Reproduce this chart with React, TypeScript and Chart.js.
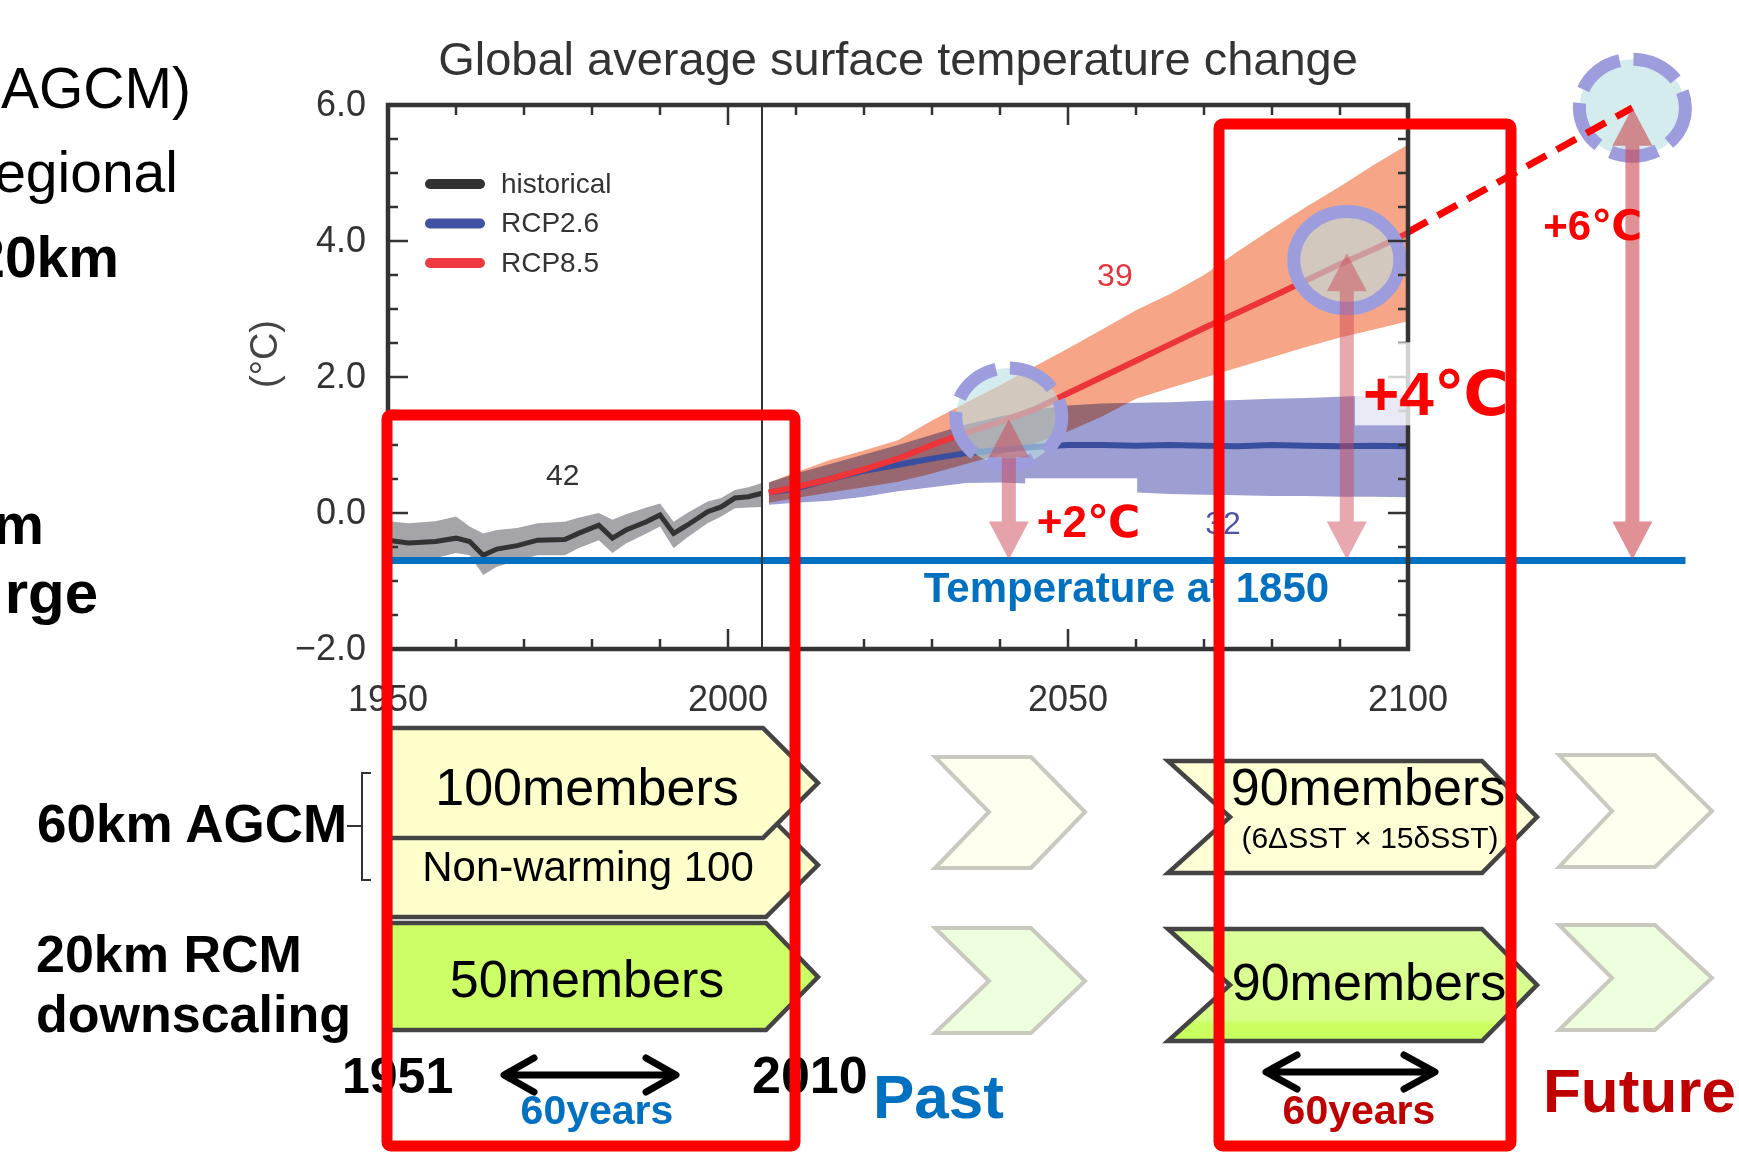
import React, { useEffect, useRef } from 'react';
import { Chart, registerables } from 'chart.js';

Chart.register(...registerables);

const W = 1739;
const H = 1152;
const FONT = "'Liberation Sans', Arial, Helvetica, 'DejaVu Sans', sans-serif";

// ---------------- data ----------------
const histYears = [1950, 1953, 1957, 1960, 1962, 1964, 1966, 1969, 1972, 1976, 1978, 1981, 1983, 1985, 1988, 1990, 1992, 1994, 1997, 1999, 2001, 2003, 2005];
const histMean = [-0.40, -0.44, -0.42, -0.37, -0.42, -0.62, -0.53, -0.48, -0.40, -0.39, -0.30, -0.18, -0.37, -0.25, -0.13, -0.03, -0.30, -0.18, 0.02, 0.09, 0.22, 0.24, 0.29];
const histUpper = [-0.12, -0.15, -0.12, -0.05, -0.20, -0.30, -0.25, -0.22, -0.15, -0.13, -0.07, 0.0, -0.10, -0.02, 0.08, 0.14, -0.13, 0.0, 0.17, 0.22, 0.34, 0.38, 0.44];
const histLower = [-0.67, -0.68, -0.66, -0.59, -0.62, -0.91, -0.79, -0.70, -0.62, -0.62, -0.52, -0.40, -0.59, -0.45, -0.30, -0.20, -0.52, -0.36, -0.15, -0.05, 0.07, 0.08, 0.09];

const futYears = [2006, 2010, 2015, 2020, 2025, 2030, 2035, 2040, 2045, 2050, 2055, 2060, 2065, 2070, 2075, 2080, 2085, 2090, 2095, 2100];
const rcp85Mean = [0.30, 0.38, 0.50, 0.64, 0.80, 1.00, 1.18, 1.34, 1.52, 1.76, 2.00, 2.24, 2.48, 2.72, 2.95, 3.18, 3.42, 3.66, 3.88, 4.12];
const rcp85Upper = [0.45, 0.60, 0.78, 0.92, 1.07, 1.36, 1.62, 1.88, 2.15, 2.42, 2.70, 2.98, 3.22, 3.50, 3.85, 4.18, 4.50, 4.80, 5.12, 5.42];
const rcp85Lower = [0.15, 0.22, 0.30, 0.38, 0.46, 0.58, 0.72, 0.86, 1.02, 1.20, 1.42, 1.68, 1.84, 1.99, 2.14, 2.29, 2.44, 2.58, 2.70, 2.82];
const rcp26Mean = [0.30, 0.36, 0.50, 0.62, 0.71, 0.80, 0.88, 0.93, 0.97, 1.00, 1.00, 0.99, 1.00, 0.99, 0.98, 1.00, 0.99, 0.98, 0.99, 0.98];
const rcp26Upper = [0.45, 0.58, 0.72, 0.86, 1.00, 1.15, 1.30, 1.42, 1.52, 1.58, 1.61, 1.62, 1.63, 1.65, 1.66, 1.68, 1.69, 1.71, 1.73, 1.75];
const rcp26Lower = [0.12, 0.15, 0.18, 0.24, 0.32, 0.38, 0.44, 0.45, 0.43, 0.40, 0.35, 0.30, 0.28, 0.27, 0.26, 0.25, 0.25, 0.24, 0.24, 0.23];

const baseline1850 = -0.7;
const baselineYears = [1950, 2140.8];
const extensionYears = [2100, 2133];
const extensionValues = [4.13, 5.96];

const xMajorTicks = [1950, 2000, 2050, 2100];
const xTickLabels = ['1950', '2000', '2050', '2100'];
const yMajorTicks = [-2, 0, 2, 4, 6];
const yTickLabels = ['\u22122.0', '0.0', '2.0', '4.0', '6.0'];
const scenarioYear = 2005;

const legendLabels = ['historical', 'RCP2.6', 'RCP8.5'];
const modelCounts = [
  { text: '42', year: 1975.7, value: 0.53 },
  { text: '39', year: 2056.9, value: 3.47 },
  { text: '32', year: 2072.8, value: -0.18 },
];
// warming target markers (circle centre = arrow tip)
const markerYears = [2041.3, 2091.0, 2133.0];
const markerValues = [1.42, 3.72, 5.96];
const markerDashed = [true, false, true];
const arrowTips = [1.38, 3.82, 5.96];
const warmingLabels = ['+2℃', '+4℃', '+6℃'];
const warmingLabelYears = [2045.4, 2093.4, 2119.9];
const warmingLabelValues = [-0.35, 1.44, 4.01];

const pts = (xs: number[], ys: number[]) => xs.map((x, i) => ({ x, y: ys[i] }));

const IDX_R85_LOWER = 3;
const IDX_R26_UPPER = 4;
const IDX_R85_MEAN = 8;

export default function App() {
  const ref = useRef<HTMLCanvasElement>(null);

  useEffect(() => {
    const canvas = ref.current!;

    const drawArrow = (ctx: CanvasRenderingContext2D, x: number, yTop: number, yBot: number, color: string) => {
      const sw = 14, hw = 40, hh = 38;
      ctx.save();
      ctx.beginPath();
      ctx.moveTo(x, yTop);
      ctx.lineTo(x + hw / 2, yTop + hh);
      ctx.lineTo(x + sw / 2, yTop + hh);
      ctx.lineTo(x + sw / 2, yBot - hh);
      ctx.lineTo(x + hw / 2, yBot - hh);
      ctx.lineTo(x, yBot);
      ctx.lineTo(x - hw / 2, yBot - hh);
      ctx.lineTo(x - sw / 2, yBot - hh);
      ctx.lineTo(x - sw / 2, yTop + hh);
      ctx.lineTo(x - hw / 2, yTop + hh);
      ctx.closePath();
      ctx.fillStyle = color;
      ctx.fill();
      ctx.restore();
    };

    const overlay = {
      id: 'overlay',
      afterDatasetDraw(chart: any, args: any) {
        const ctx: CanvasRenderingContext2D = chart.ctx;
        if (args.index === IDX_R85_LOWER) ctx.globalCompositeOperation = 'multiply';
        if (args.index === IDX_R26_UPPER) ctx.globalCompositeOperation = 'source-over';
        if (args.index === IDX_R85_MEAN) {
          const xs = chart.scales.x, ys = chart.scales.y;
          markerYears.forEach((yr, i) => {
            const cx = xs.getPixelForValue(yr);
            const cy = ys.getPixelForValue(markerValues[i]);
            ctx.save();
            ctx.beginPath();
            ctx.ellipse(cx, cy, 53, 48.5, 0, 0, Math.PI * 2);
            ctx.fillStyle = 'rgba(185,223,227,0.6)';
            ctx.fill();
            ctx.lineWidth = 13;
            ctx.strokeStyle = '#9d9ddd';
            if (markerDashed[i]) {
              ctx.setLineDash([48, 14]);
              ctx.lineDashOffset = 8;
            }
            ctx.stroke();
            ctx.restore();
          });
        }
      },
      afterDatasetsDraw(chart: any) {
        const ctx: CanvasRenderingContext2D = chart.ctx;
        ctx.globalCompositeOperation = 'source-over';
        const { left: L, right: R, top: T, bottom: B } = chart.chartArea;
        const xs = chart.scales.x, ys = chart.scales.y;
        ctx.save();
        // scenario divider
        ctx.strokeStyle = '#333';
        ctx.lineWidth = 2;
        const x05 = xs.getPixelForValue(scenarioYear);
        ctx.beginPath();
        ctx.moveTo(x05, T);
        ctx.lineTo(x05, B);
        ctx.stroke();
        // ticks
        ctx.lineWidth = 2.5;
        ctx.beginPath();
        for (let v = -1.5; v < 6; v += 0.5) {
          const y = ys.getPixelForValue(v);
          const len = yMajorTicks.includes(v) ? 20 : 10;
          ctx.moveTo(L, y); ctx.lineTo(L + len, y);
          ctx.moveTo(R, y); ctx.lineTo(R - len, y);
        }
        for (let yr = 1960; yr < 2100; yr += 10) {
          const x = xs.getPixelForValue(yr);
          const len = xMajorTicks.includes(yr) ? 20 : 10;
          ctx.moveTo(x, T); ctx.lineTo(x, T + len);
          ctx.moveTo(x, B); ctx.lineTo(x, B - len);
        }
        ctx.stroke();
        // frame
        ctx.lineWidth = 4.5;
        ctx.strokeRect(L, T, R - L, B - T);

        // legend
        const legendColors = ['#333333', '#4152a3', '#ee3a40'];
        legendLabels.forEach((lab, i) => {
          const y = T + 79 + i * 39.5;
          ctx.beginPath();
          ctx.lineCap = 'round';
          ctx.lineWidth = 10;
          ctx.strokeStyle = legendColors[i];
          ctx.moveTo(L + 42, y);
          ctx.lineTo(L + 92, y);
          ctx.stroke();
          ctx.fillStyle = '#333';
          ctx.font = `28px ${FONT}`;
          ctx.textAlign = 'left';
          ctx.textBaseline = 'middle';
          ctx.fillText(lab, L + 113, y + 1);
        });

        // label boxes
        ctx.fillStyle = '#ffffff';
        ctx.fillRect(xs.getPixelForValue(2043.7), ys.getPixelForValue(0.51), 112, 64);
        ctx.fillStyle = 'rgba(255,255,255,0.78)';
        ctx.fillRect(xs.getPixelForValue(2092.2), ys.getPixelForValue(2.51), 150, 83);

        // arrows
        const yBase = ys.getPixelForValue(baseline1850);
        const arrowColors = ['rgba(205,70,85,0.5)', 'rgba(205,70,85,0.47)', 'rgba(205,70,80,0.6)'];
        markerYears.forEach((yr, i) => {
          drawArrow(ctx, xs.getPixelForValue(yr), ys.getPixelForValue(arrowTips[i]), yBase - 1, arrowColors[i]);
        });

        // model counts
        const countColors = ['#333333', '#e8343c', '#4a55a8'];
        const countSizes = [30, 32, 32];
        modelCounts.forEach((m, i) => {
          ctx.fillStyle = countColors[i];
          ctx.font = `${countSizes[i]}px ${FONT}`;
          ctx.textAlign = 'center';
          ctx.textBaseline = 'middle';
          ctx.fillText(m.text, xs.getPixelForValue(m.year), ys.getPixelForValue(m.value));
        });

        // Temperature at 1850
        ctx.fillStyle = '#0070c0';
        ctx.font = `bold 42px ${FONT}`;
        ctx.textAlign = 'center';
        ctx.textBaseline = 'alphabetic';
        ctx.fillText('Temperature at 1850', xs.getPixelForValue(2058.6), 602);

        // warming labels
        const wSizes = [44, 62, 42];
        warmingLabels.forEach((lab, i) => {
          ctx.fillStyle = '#ff0000';
          ctx.font = `bold ${wSizes[i]}px ${FONT}`;
          ctx.textAlign = 'left';
          ctx.textBaseline = 'alphabetic';
          ctx.fillText(lab, xs.getPixelForValue(warmingLabelYears[i]), ys.getPixelForValue(warmingLabelValues[i]));
        });

        // tick labels
        ctx.fillStyle = '#333';
        ctx.font = `36px ${FONT}`;
        ctx.textBaseline = 'middle';
        ctx.textAlign = 'right';
        yMajorTicks.forEach((v, i) => ctx.fillText(yTickLabels[i], L - 22, ys.getPixelForValue(v) + 1));
        ctx.textAlign = 'center';
        xMajorTicks.forEach((v, i) => ctx.fillText(xTickLabels[i], xs.getPixelForValue(v), B + 52));

        // axis title
        ctx.save();
        ctx.translate(L - 121, (T + B) / 2 - 23);
        ctx.rotate(-Math.PI / 2);
        ctx.fillStyle = '#444';
        ctx.font = `38px ${FONT}`;
        ctx.textAlign = 'center';
        ctx.textBaseline = 'middle';
        ctx.fillText('(°C)', 0, 0);
        ctx.restore();

        // chart title
        ctx.fillStyle = '#333';
        ctx.font = `47px ${FONT}`;
        ctx.textAlign = 'center';
        ctx.textBaseline = 'alphabetic';
        ctx.fillText('Global average surface temperature change', (L + R) / 2, 75);
        ctx.restore();
      },
    };

    const bandLine = { borderColor: 'rgba(0,0,0,0)', borderWidth: 0, pointRadius: 0, tension: 0 };
    const chart = new Chart(canvas, {
      type: 'line',
      data: {
        datasets: [
          { ...bandLine, data: pts(histYears, histUpper), fill: '+1', backgroundColor: '#a4a4a9', order: 12 },
          { ...bandLine, data: pts(histYears, histLower), fill: false, order: 11 },
          { ...bandLine, data: pts(futYears, rcp85Upper), fill: '+1', backgroundColor: '#f7a587', order: 10 },
          { ...bandLine, data: pts(futYears, rcp85Lower), fill: false, order: 9 },
          { ...bandLine, data: pts(futYears, rcp26Upper), fill: '+1', backgroundColor: '#9d9fd2', order: 8 },
          { ...bandLine, data: pts(futYears, rcp26Lower), fill: false, order: 7 },
          { label: 'historical', data: pts(histYears, histMean), borderColor: '#333333', borderWidth: 5, pointRadius: 0, fill: false, tension: 0, order: 6 },
          { label: 'RCP2.6', data: pts(futYears, rcp26Mean), borderColor: '#3a4ea0', borderWidth: 6, pointRadius: 0, fill: false, tension: 0, order: 5 },
          { label: 'RCP8.5', data: pts(futYears, rcp85Mean), borderColor: '#ec3439', borderWidth: 6, pointRadius: 0, fill: false, tension: 0, order: 4 },
          { data: pts(baselineYears, [baseline1850, baseline1850]), borderColor: '#0070c0', borderWidth: 7, pointRadius: 0, fill: false, clip: false, borderCapStyle: 'butt', order: 3 },
          { data: pts(extensionYears, extensionValues), borderColor: '#ff0000', borderWidth: 7, borderDash: [22, 12], pointRadius: 0, fill: false, clip: false, order: 2 },
        ] as any,
      },
      options: {
        responsive: false,
        animation: false,
        devicePixelRatio: 1,
        events: [],
        layout: { padding: { left: 388, top: 105, right: W - 1408, bottom: H - 649 } },
        plugins: {
          legend: { display: false },
          title: { display: false },
          tooltip: { enabled: false },
          filler: { propagate: false, drawTime: 'beforeDatasetDraw' },
        } as any,
        scales: {
          x: { type: 'linear', min: 1950, max: 2100, display: false },
          y: { type: 'linear', min: -2, max: 6, display: false },
        },
      },
      plugins: [overlay as any],
    });
    return () => chart.destroy();
  }, []);

  const txt = { fontFamily: FONT } as React.CSSProperties;
  const pale = { strokeWidth: 4, stroke: '#c9c9bf', strokeLinejoin: 'miter' as const };
  const dark = { strokeWidth: 4.5, stroke: '#444', strokeLinejoin: 'miter' as const };

  return (
    <div style={{ position: 'fixed', left: 0, top: 0, width: W, height: H, background: '#fff', overflow: 'hidden' }}>
      <canvas ref={ref} width={W} height={H} style={{ position: 'absolute', left: 0, top: 0, width: W, height: H }} />
      <svg width={W} height={H} style={{ position: 'absolute', left: 0, top: 0 }}>
        <defs>
          <linearGradient id="grn" x1="0" y1="0" x2="0" y2="1">
            <stop offset="0" stopColor="#dcff9c" />
            <stop offset="0.8" stopColor="#d6ff88" />
            <stop offset="0.86" stopColor="#c9ff5e" />
            <stop offset="1" stopColor="#c9ff5e" />
          </linearGradient>
        </defs>
        {/* cropped left texts */}
        <g style={txt} fill="#000">
          <text x={191} y={108} fontSize={57} textAnchor="end">AGCM)</text>
          <text x={178} y={192} fontSize={57} textAnchor="end">egional</text>
          <text x={119} y={277} fontSize={57} fontWeight="bold" textAnchor="end">20km</text>
          <text x={44} y={544} fontSize={57} fontWeight="bold" textAnchor="end">m</text>
          <text x={98} y={613} fontSize={60} fontWeight="bold" textAnchor="end">rge</text>
          <text x={37} y={842} fontSize={53} fontWeight="bold">60km AGCM</text>
          <text x={36} y={972} fontSize={52} fontWeight="bold">20km RCM</text>
          <text x={36} y={1032} fontSize={52} fontWeight="bold">downscaling</text>
        </g>
        <path d="M371,773 L362,773 L362,880 L371,880 M347,826 L362,826" fill="none" stroke="#333" strokeWidth={2} />

        {/* past chevrons */}
        <path d="M390,813 L766,813 L818,865 L766,917 L390,917 Z" fill="#ffffcc" {...dark} />
        <path d="M390,728 L763,728 L818,783 L763,838 L390,838 Z" fill="#ffffcc" {...dark} />
        <path d="M390,923 L766,923 L818,977 L766,1030 L390,1030 Z" fill="#ccff66" {...dark} />
        <g style={txt} fill="#000" textAnchor="middle">
          <text x={587} y={805} fontSize={52}>100members</text>
          <text x={588} y={881} fontSize={42}>Non-warming 100</text>
          <text x={587} y={997} fontSize={52}>50members</text>
        </g>

        {/* pale chevrons */}
        <path d="M935,757 L1031,757 L1085,812 L1031,868 L935,868 L989,812 Z" fill="#fffff0" {...pale} />
        <path d="M935,928 L1031,928 L1085,981 L1031,1033 L935,1033 L989,981 Z" fill="#eeffdd" {...pale} />
        <path d="M1559,755 L1655,755 L1712,811 L1655,867 L1559,867 L1612,811 Z" fill="#fffff0" {...pale} />
        <path d="M1559,925 L1655,925 L1712,978 L1655,1030 L1559,1030 L1612,978 Z" fill="#eeffdd" {...pale} />

        {/* future chevrons */}
        <path d="M1168,761 L1482,761 L1537,817 L1482,873 L1168,873 L1230,817 Z" fill="#ffffd6" {...dark} />
        <path d="M1168,929 L1482,929 L1537,985 L1482,1041 L1168,1041 L1230,985 Z" fill="url(#grn)" {...dark} />
        <g style={txt} fill="#000" textAnchor="middle">
          <text x={1368} y={805} fontSize={52}>90members</text>
          <text x={1370} y={848} fontSize={30}>(6ΔSST × 15δSST)</text>
          <text x={1369} y={1000} fontSize={52}>90members</text>
        </g>

        {/* period arrows */}
        <g fill="none" stroke="#000" strokeWidth={7} strokeLinecap="round" strokeLinejoin="round">
          <path d="M506,1075 L674,1075 M534,1058 L504,1075 L534,1092 M646,1058 L676,1075 L646,1092" />
          <path d="M1267,1072 L1434,1072 M1297,1055 L1266,1072 L1297,1089 M1404,1055 L1435,1072 L1404,1089" />
        </g>
        <g style={txt} fontWeight="bold">
          <text x={342} y={1093} fontSize={50} fill="#000">1951</text>
          <text x={752} y={1093} fontSize={52} fill="#000">2010</text>
          <text x={597} y={1124} fontSize={41} fill="#0070c0" textAnchor="middle">60years</text>
          <text x={873} y={1118} fontSize={62} fill="#0070c0">Past</text>
          <text x={1359} y={1124} fontSize={41} fill="#c00000" textAnchor="middle">60years</text>
          <text x={1543} y={1112} fontSize={62} fill="#c00000">Future</text>
        </g>

        {/* highlight frames */}
        <rect x={387} y={415} width={408} height={731} rx={4} fill="none" stroke="#ff0000" strokeWidth={11} />
        <rect x={1219} y={124} width={292} height={1022} rx={4} fill="none" stroke="#ff0000" strokeWidth={11} />
      </svg>
    </div>
  );
}
